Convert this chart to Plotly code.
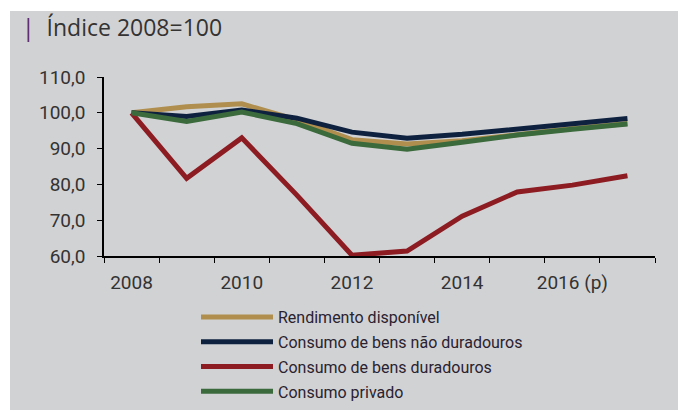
import plotly.graph_objects as go

years = ["2008", "2009", "2010", "2011", "2012", "2013", "2014", "2015", "2016", "2017"]
tick_text = ["2008", "", "2010", "", "2012", "", "2014", "", "2016 (p)", ""]

rendimento = [100.0, 101.7, 102.5, 98.0, 92.5, 91.3, 92.2, 94.0, 95.6, 97.0]
nao_duraveis = [100.0, 99.0, 100.8, 98.5, 94.6, 92.9, 94.0, 95.5, 97.0, 98.4]
duraveis = [100.0, 81.7, 93.0, 77.0, 60.2, 61.4, 71.1, 77.9, 79.8, 82.4]
privado = [100.0, 97.6, 100.2, 97.0, 91.5, 89.8, 91.8, 93.8, 95.4, 96.9]

names = ["Rendimento disponível", "Consumo de bens não duradouros",
         "Consumo de bens duradouros", "Consumo privado"]
colors = ["#b08f4e", "#0e2240", "#8c1c22", "#3b6a3c"]
series = [rendimento, nao_duraveis, duraveis, privado]

fig = go.Figure()
for i, (n, c, s) in enumerate(zip(names, colors, series)):
    fig.add_trace(go.Scatter(x=years, y=s, name=n, mode="lines", legendgroup=f"g{i}",
                             line=dict(color=c, width=5)))

font_fam = "Roboto, sans-serif"
bg = "#d1d2d4"
W, H = 678, 402
L, R, T, B = 96, 31, 69, 154
PW, PH = W - L - R, H - T - B

fig.update_layout(
    width=W, height=H,
    paper_bgcolor="white", plot_bgcolor=bg,
    margin=dict(l=L, r=R, t=T, b=B, autoexpand=False),
    separators=", ",
    showlegend=True,
    legend=dict(x=(188 - L) / PW, y=-44 / PH, xanchor="left", yanchor="top",
                bgcolor="rgba(0,0,0,0)", font=dict(family=font_fam, size=16, color="#2a2230"),
                itemwidth=72, tracegroupgap=1, traceorder="grouped"),
    font=dict(family=font_fam, size=19, color="#333333"),
)
# grey panel background
fig.add_shape(type="rect", xref="paper", yref="paper", layer="below",
              x0=(2 - L) / PW, x1=1 + R / PW + 0.01, y0=-B / PH - 0.01, y1=1 + (T - 3) / PH,
              fillcolor=bg, line=dict(width=0))

fig.add_annotation(xref="paper", yref="paper", x=(12 - L) / PW, y=1 + 50 / PH,
                   xanchor="left", yanchor="middle", showarrow=False,
                   text="<span style='color:#5e2a5c'>|</span>&nbsp; Índice 2008=100",
                   font=dict(family="Open Sans, sans-serif", size=23, color="#333333"))

fig.update_xaxes(type="category", tickvals=years, ticktext=tick_text,
                 tickson="boundaries", ticks="outside", ticklen=5, tickcolor="black",
                 showline=True, linecolor="black", linewidth=1.5, showgrid=False,
                 range=[-0.5, 9.5], tickangle=0, automargin=False,
                 ticklabelstandoff=8, tickfont=dict(size=19))
fig.update_yaxes(range=[60, 110], dtick=10, tick0=60, tickformat=".1f",
                 ticks="outside", ticklen=5, tickcolor="black",
                 showline=True, linecolor="black", linewidth=1.5, showgrid=False,
                 zeroline=False, automargin=False, ticklabelstandoff=8,
                 tickfont=dict(size=19))

fig.write_html("out.html")
